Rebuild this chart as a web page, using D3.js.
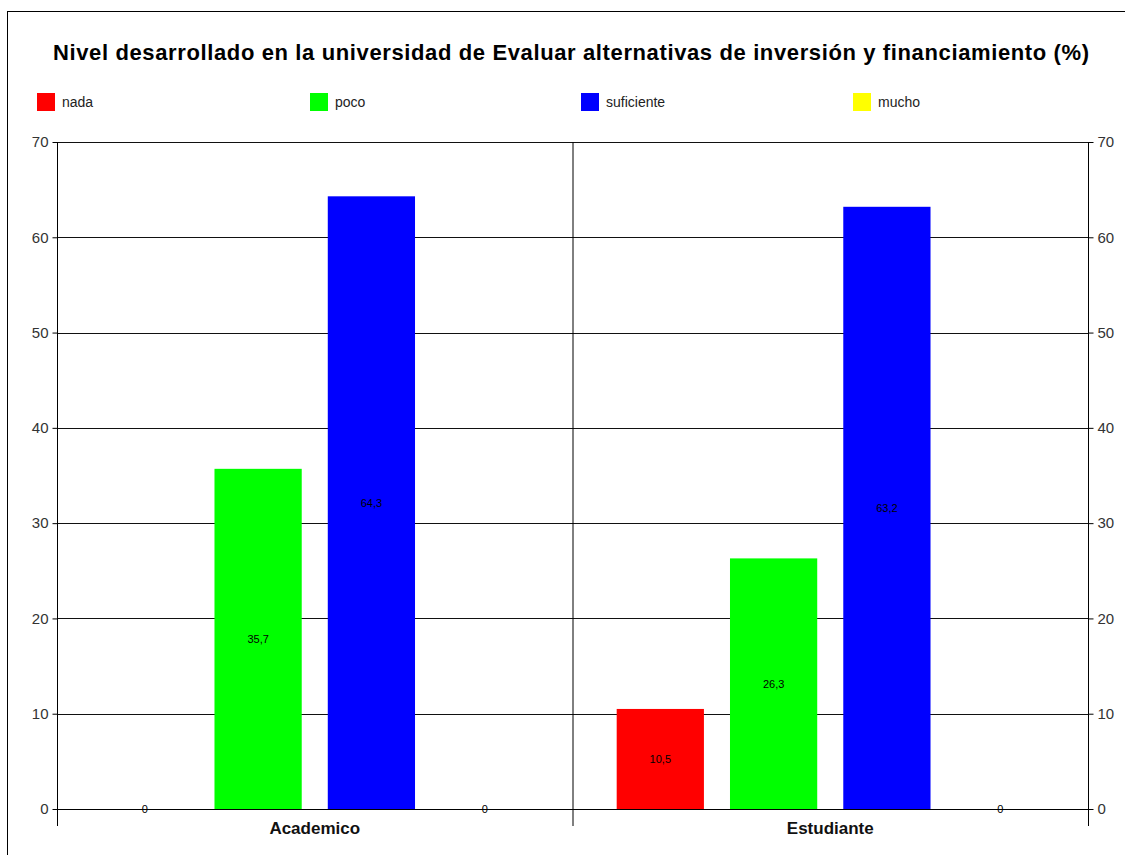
<!DOCTYPE html>
<html>
<head>
<meta charset="utf-8">
<script src="https://cdn.jsdelivr.net/npm/d3@7"></script>
<style>
  html, body { margin: 0; padding: 0; background: #fff; }
  svg { display: block; font-family: "Liberation Sans", Arial, sans-serif; }
</style>
</head>
<body>
<svg id="chart" width="1125" height="855"></svg>
<script>
// Chart data
const title = "Nivel desarrollado en la universidad de Evaluar alternativas de inversión y financiamiento (%)";
const groups = ["Academico", "Estudiante"];
const series = ["nada", "poco", "suficiente", "mucho"];
const colors = ["#ff0000", "#00ff00", "#0000ff", "#ffff00"];
const nada = [0, 10.5];
const poco = [35.7, 26.3];
const suficiente = [64.3, 63.2];
const mucho = [0, 0];
const yTicks = [0, 10, 20, 30, 40, 50, 60, 70];

const values = [nada, poco, suficiente, mucho];
const rows = [];
groups.forEach((g, gi) => {
  series.forEach((s, si) => rows.push({ group: g, series: s, color: colors[si], value: values[si][gi] }));
});

const svg = d3.select("#chart");
const plot = { left: 57, right: 1088, top: 142, bottom: 809 };

// outer frame
svg.append("rect")
  .attr("x", 7.5).attr("y", 11.5)
  .attr("width", 1130).attr("height", 860)
  .attr("fill", "none").attr("stroke", "#000").attr("stroke-width", 1);

// title
svg.append("text")
  .attr("x", 571).attr("y", 60)
  .attr("text-anchor", "middle")
  .attr("font-size", 22).attr("font-weight", "bold")
  .attr("fill", "#000")
  .attr("textLength", 1036).attr("lengthAdjust", "spacing")
  .text(title);

// scales
const x0 = d3.scaleBand().domain(groups).range([plot.left, plot.right]);
const x1 = d3.scaleBand().domain(series).range([0, x0.bandwidth()]).paddingInner(0.23).paddingOuter(0.39);
const y = d3.scaleLinear().domain([0, 70]).range([plot.bottom, plot.top]);

// legend
const legendX = [37, 310, 581, 853];
const legend = svg.append("g");
series.forEach((s, i) => {
  legend.append("rect")
    .attr("x", legendX[i]).attr("y", 93)
    .attr("width", 18).attr("height", 18)
    .attr("fill", colors[i]);
  legend.append("text")
    .attr("x", legendX[i] + 25).attr("y", 107)
    .attr("font-size", 14).attr("fill", "#222")
    .text(s);
});

// gridlines
svg.append("g")
  .selectAll("line")
  .data(yTicks)
  .join("line")
  .attr("x1", plot.left).attr("x2", plot.right)
  .attr("y1", d => Math.round(y(d)) + 0.5).attr("y2", d => Math.round(y(d)) + 0.5)
  .attr("stroke", "#111").attr("stroke-width", 1);

// group separator
svg.append("line")
  .attr("x1", x0("Estudiante") + 0.5).attr("x2", x0("Estudiante") + 0.5)
  .attr("y1", plot.top).attr("y2", 826)
  .attr("stroke", "#000");

// bars
svg.append("g")
  .selectAll("rect")
  .data(rows)
  .join("rect")
  .attr("x", d => x0(d.group) + x1(d.series))
  .attr("y", d => y(d.value))
  .attr("width", x1.bandwidth())
  .attr("height", d => y(0) - y(d.value))
  .attr("fill", d => d.color);

// value labels centred in each bar
svg.append("g")
  .selectAll("text")
  .data(rows)
  .join("text")
  .attr("x", d => x0(d.group) + x1(d.series) + x1.bandwidth() / 2)
  .attr("y", d => (y(d.value) + y(0)) / 2 + 4)
  .attr("text-anchor", "middle")
  .attr("font-size", 11).attr("fill", "#000")
  .text(d => d3.format(".1f")(d.value).replace(".", ",").replace(/,0$/, ""));

// axes
const fmt = d => d;
const leftAxis = svg.append("g")
  .attr("transform", `translate(${plot.left + 0.5},0)`)
  .call(d3.axisLeft(y).tickValues(yTicks).tickSize(5).tickPadding(4).tickFormat(fmt));
const rightAxis = svg.append("g")
  .attr("transform", `translate(${plot.right + 0.5},0)`)
  .call(d3.axisRight(y).tickValues(yTicks).tickSize(5).tickPadding(4).tickFormat(fmt));
[leftAxis, rightAxis].forEach(a => {
  a.select(".domain").remove();
  a.selectAll("line").attr("stroke", "#000");
  a.selectAll("text").attr("font-size", 15).attr("fill", "#333")
    .attr("font-family", "'Liberation Sans', Arial, sans-serif");
});
// axis lines, extending below the baseline
[plot.left, plot.right].forEach(px => {
  svg.append("line")
    .attr("x1", px + 0.5).attr("x2", px + 0.5)
    .attr("y1", plot.top).attr("y2", 826)
    .attr("stroke", "#000");
});
svg.append("line")
  .attr("x1", plot.left).attr("x2", plot.right)
  .attr("y1", Math.round(y(0)) + 0.5).attr("y2", Math.round(y(0)) + 0.5)
  .attr("stroke", "#000");

// category labels
svg.append("g")
  .selectAll("text")
  .data(groups)
  .join("text")
  .attr("x", d => x0(d) + x0.bandwidth() / 2)
  .attr("y", 834)
  .attr("text-anchor", "middle")
  .attr("font-size", 17).attr("font-weight", "bold").attr("fill", "#111")
  .text(d => d);
</script>
</body>
</html>
